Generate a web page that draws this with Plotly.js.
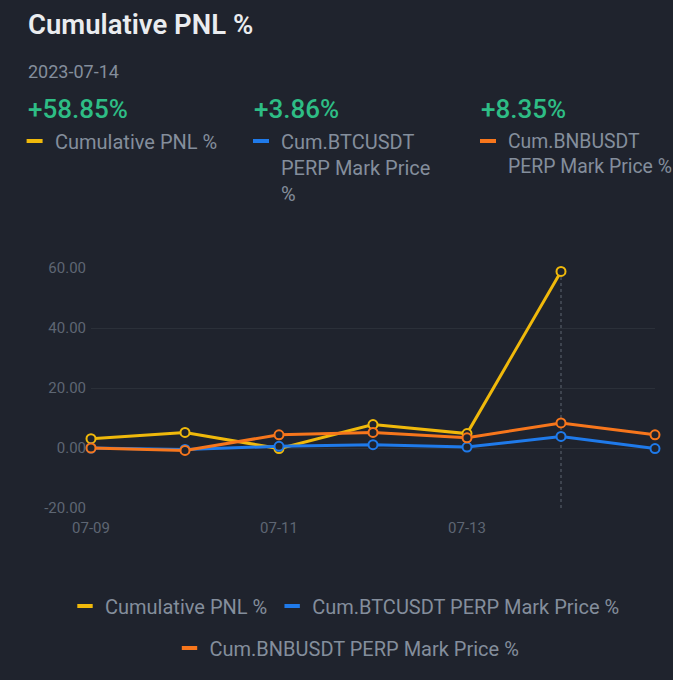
<!DOCTYPE html>
<html>
<head>
<meta charset="utf-8">
<script src="https://cdn.plot.ly/plotly-3.0.1.min.js"></script>
<style>html,body{margin:0;padding:0;background:#1f232d;}#chart{width:673px;height:680px;}</style>
</head>
<body>
<div id="chart"></div>
<script>
// ---- data ----
var dates = ['2023-07-09','2023-07-10','2023-07-11','2023-07-12','2023-07-13','2023-07-14','2023-07-15'];
var cumPnl = [3.1, 5.2, -0.2, 7.8, 4.8, 58.85];
var btcPct = [0.0, -0.5, 0.55, 1.1, 0.3, 3.86, -0.2];
var bnbPct = [0.0, -0.8, 4.4, 5.2, 3.4, 8.35, 4.4];
var seriesNames = ['Cumulative PNL %', 'Cum.BTCUSDT PERP Mark Price %', 'Cum.BNBUSDT PERP Mark Price %'];
var headerNames = ['Cumulative PNL %', 'Cum.BTCUSDT<br>PERP Mark Price<br>%', 'Cum.BNBUSDT<br>PERP Mark Price %'];
var headerValues = ['+58.85%', '+3.86%', '+8.35%'];
var selectedDate = '2023-07-14';
var yTickVals = [-20, 0, 20, 40, 60];
var yTickText = ['-20.00', '0.00', '20.00', '40.00', '60.00'];

// ---- style ----
var BG = '#1f232d';
var colors = ['#f0b90b', '#1f7aea', '#f7761c'];
var FONT = 'Roboto, "Noto Sans", sans-serif';
var W = 673, H = 680, ML = 91, MR = 18, MT = 268, MB = 172;
var PW = W - ML - MR, PH = H - MT - MB;
function px(x) { return (x - ML) / PW; }
function py(y) { return (H - MB - y) / PH; }

var series = [cumPnl, btcPct, bnbPct];
var traces = series.map(function (vals, i) {
  return {
    type: 'scatter', mode: 'lines+markers', name: seriesNames[i],
    x: dates.slice(0, vals.length), y: vals,
    line: {color: colors[i], width: 3},
    marker: {symbol: 'circle', size: 9, color: BG, line: {color: colors[i], width: 2}},
    cliponaxis: false,
    showlegend: false, hoverinfo: 'x+y'
  };
});
// legend entries (short bar swatches)
series.forEach(function (vals, i) {
  traces.push({
    type: 'scatter', mode: 'markers', name: seriesNames[i],
    x: [dates[0]], y: [null],
    marker: {symbol: 'line-ew', size: 11, color: colors[i], line: {color: colors[i], width: 4}},
    showlegend: true, legend: i < 2 ? 'legend' : 'legend2', hoverinfo: 'skip'
  });
});

var headerX = [26.6, 253, 480];
var headerSize = [20, 20, 19.4];
var annotations = [
  {text: 'Cumulative PNL %', x: px(26), y: py(24), xref: 'paper', yref: 'paper', xanchor: 'left', yanchor: 'middle',
   showarrow: false, font: {family: FONT, size: 27.5, color: '#eaecef', weight: 600}},
  {text: selectedDate, x: px(26), y: py(71), xref: 'paper', yref: 'paper', xanchor: 'left', yanchor: 'middle',
   showarrow: false, font: {family: FONT, size: 18, color: '#848e9c'}}
];
var shapes = [];
headerX.forEach(function (hx, i) {
  annotations.push({text: headerValues[i], x: px(hx - 1), y: py(109), xref: 'paper', yref: 'paper', xanchor: 'left', yanchor: 'middle',
    showarrow: false, font: {family: FONT, size: 26, color: '#2ebd85', weight: 500}});
  annotations.push({text: headerNames[i], x: px(hx + 26), y: py(128), xref: 'paper', yref: 'paper', xanchor: 'left', yanchor: 'top',
    align: 'left', showarrow: false, font: {family: FONT, size: headerSize[i], color: '#848e9c'}});
  shapes.push({type: 'rect', xref: 'paper', yref: 'paper', x0: px(hx), x1: px(hx + 16), y0: py(139), y1: py(143),
    fillcolor: colors[i], line: {width: 0}});
});
shapes.push({type: 'line', xref: 'x', yref: 'y', x0: selectedDate, x1: selectedDate, y0: yTickVals[0], y1: cumPnl[5],
  line: {color: '#5e6673', width: 1, dash: 'dot'}, layer: 'below'});

var layout = {
  width: W, height: H,
  margin: {l: ML, r: MR, t: MT, b: MB, pad: 0},
  paper_bgcolor: BG, plot_bgcolor: BG,
  font: {family: FONT, color: '#848e9c'},
  xaxis: {
    type: 'date', range: [dates[0], dates[dates.length - 1]],
    tick0: dates[0], dtick: 2 * 86400000, tickformat: '%m-%d',
    showgrid: false, zeroline: false, showline: false, ticks: '',
    tickfont: {family: FONT, size: 15, color: '#5e6673'}, ticklabelstandoff: 9
  },
  yaxis: {
    range: [yTickVals[0], yTickVals[yTickVals.length - 1]],
    tickmode: 'array', tickvals: yTickVals, ticktext: yTickText,
    showgrid: true, gridcolor: '#2b3039', gridwidth: 1, zeroline: false, showline: false, ticks: '',
    tickfont: {family: FONT, size: 15, color: '#5e6673'}, ticklabelstandoff: 4
  },
  legend: {orientation: 'h', x: px(345), xanchor: 'center', y: py(606), yanchor: 'middle',
    bgcolor: 'rgba(0,0,0,0)', font: {family: FONT, size: 20, color: '#848e9c'}, itemwidth: 30},
  legend2: {orientation: 'h', x: px(347), xanchor: 'center', y: py(648), yanchor: 'middle',
    bgcolor: 'rgba(0,0,0,0)', font: {family: FONT, size: 20, color: '#848e9c'}, itemwidth: 30},
  annotations: annotations,
  shapes: shapes,
  showlegend: true,
  hovermode: false
};

Plotly.newPlot('chart', traces, layout, {displayModeBar: false, staticPlot: true});
</script>
</body>
</html>
